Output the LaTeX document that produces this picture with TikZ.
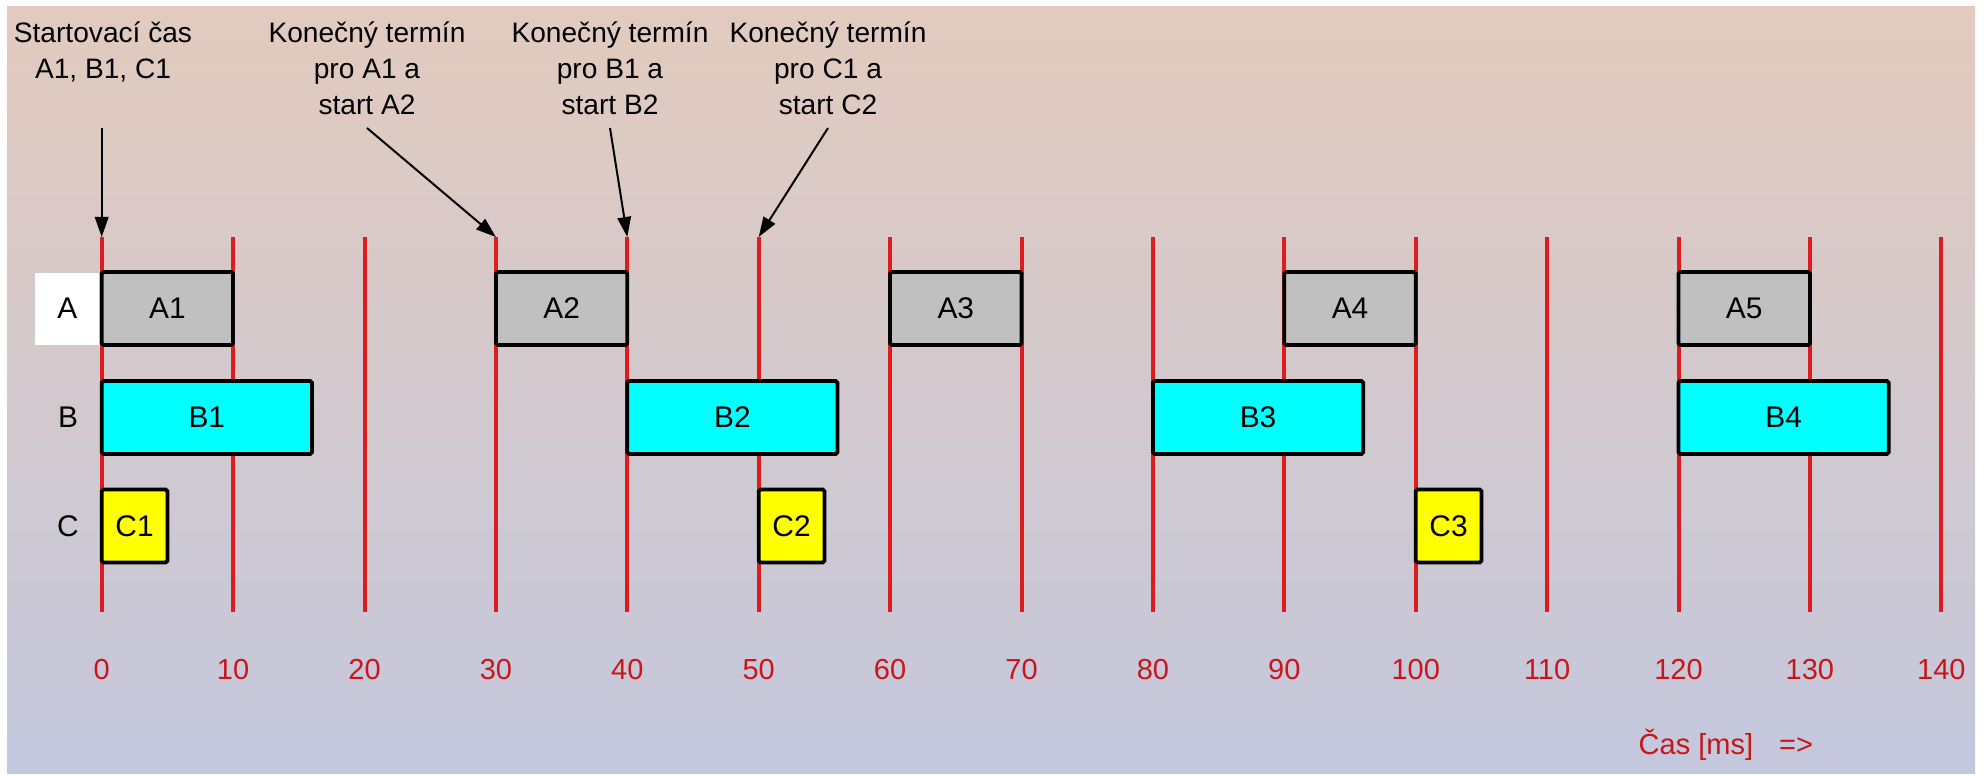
\documentclass[tikz,border=0pt]{standalone}
\usepackage{fontspec}
\setmainfont{Liberation Sans}
\usetikzlibrary{arrows.meta}

\definecolor{cervena}{RGB}{222,28,32}
\definecolor{cislo}{RGB}{200,22,26}
\definecolor{sedA}{RGB}{192,192,192}
\definecolor{azurB}{RGB}{0,255,255}
\definecolor{zlutC}{RGB}{255,255,0}
\definecolor{pozadiH}{RGB}{226,202,190}
\definecolor{pozadiS}{RGB}{214,187,204}
\definecolor{pozadiD}{RGB}{196,200,221}

\begin{document}
\begin{tikzpicture}[>={Triangle[length=0.4cm,width=0.27cm]}, line width=0.8pt,
	font=\fontsize{17}{20}\selectfont,
	mez/.style={line width=0.08cm, cervena},
	uloha/.style={draw=black, line width=0.075cm, rounded corners=1pt,
		outer sep=0pt, inner sep=0pt, minimum height=1.46cm, anchor=west},
	popis/.style={align=center, anchor=north, inner sep=0pt,
		font=\fontsize{16}{20.5}\selectfont},
	sipka/.style={->, line width=0.04cm, black},
	osa/.style={cislo, inner sep=0pt, font=\fontsize{16.5}{20}\selectfont},
	]
	
	\def\W{39.72}   % sirka obrazku
	\def\H{15.50}   % vyska obrazku
	\def\xo{2.034}  % poloha casu 0
	\def\s{0.2628}  % cm na 1 ms
	\def\yt{10.76}  % horni konec car
	\def\yb{3.26}   % dolni konec car
	\def\yA{9.33}   % radek A
	\def\yB{7.15}   % radek B
	\def\yC{4.98}   % radek C
	\def\ya{12.94}  % zacatek sipek
	
	%% ── Pozadi ───────────────────────────────────────────────────────────────
	\useasboundingbox (0,0) rectangle (\W,\H);
	\fill[white] (0,0) rectangle (\W,\H);
	\shade[top color=pozadiH, middle color=pozadiS, bottom color=pozadiD]
	(0.14,0.04) rectangle (39.5,15.36);
	
	%% ── Casove cary a osa ────────────────────────────────────────────────────
	\foreach \t in {0,10,...,140}{
		\draw[mez]({\xo+\t*\s},\yb)--({\xo+\t*\s},\yt) coordinate (t\t);
		\node[osa] (n\t) at ({\xo+\t*\s},2.1) {\t};}
	\node[osa, anchor=west] (cas) at (32.76,0.6) {Čas [ms]\hspace{0.9em}=>};
	
	%% ── Radky ────────────────────────────────────────────────────────────────
	\node[fill=white, draw=gray!40, line width=0.4pt, inner sep=0pt,
	minimum width=1.3cm, minimum height=1.46cm, anchor=east] (radA) at (\xo-0.03,\yA) {A};
	\node (radB) at (1.36,\yB) {B};
	\node (radC) at (1.36,\yC) {C};
	
	%% ── Ulohy A, B, C ────────────────────────────────────────────────────────
	\foreach \t/\k in {0/1,30/2,60/3,90/4,120/5}
	\node[uloha, fill=sedA, minimum width=\s*10cm] (A\k) at ({\xo+\t*\s},\yA) {A\k};
	\foreach \t/\k in {0/1,40/2,80/3,120/4}
	\node[uloha, fill=azurB, minimum width=\s*16cm] (B\k) at ({\xo+\t*\s},\yB) {B\k};
	\foreach \t/\k in {0/1,50/2,100/3}
	\node[uloha, fill=zlutC, minimum width=\s*5cm] (C\k) at ({\xo+\t*\s},\yC) {C\k};
	
	%% ── Popisky a sipky ──────────────────────────────────────────────────────
	\node[popis] (start) at (2.06,15.08) {Startovací čas\\A1, B1, C1};
	\node[popis] (termA) at (7.34,15.08) {Konečný termín\\pro A1 a\\start A2};
	\node[popis] (termB) at (12.2,15.08) {Konečný termín\\pro B1 a\\start B2};
	\node[popis] (termC) at (16.56,15.08) {Konečný termín\\pro C1 a\\start C2};
	\draw[sipka] (t0 |- 0,\ya)--(t0);
	\draw[sipka] (termA.south |- 0,\ya)--(t30);
	\draw[sipka] (termB.south |- 0,\ya)--(t40);
	\draw[sipka] (termC.south |- 0,\ya)--(t50);
	
\end{tikzpicture}
\end{document}
